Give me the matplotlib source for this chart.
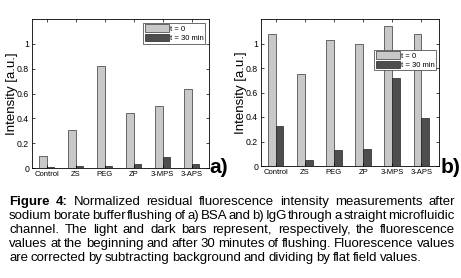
import numpy as np
import matplotlib
matplotlib.use("Agg")
import matplotlib.pyplot as plt

plt.rcParams['font.family'] = ['Liberation Sans', 'DejaVu Sans']

categories = ["Control", "ZS", "PEG", "ZP", "3-MPS", "3-APS"]
bsa_t0 = [0.10, 0.31, 0.82, 0.44, 0.50, 0.635]
bsa_t30 = [0.005, 0.02, 0.02, 0.03, 0.085, 0.035]
igg_t0 = [1.08, 0.75, 1.03, 1.00, 1.14, 1.08]
igg_t30 = [0.33, 0.05, 0.13, 0.135, 0.72, 0.395]
yticks = [0, 0.2, 0.4, 0.6, 0.8, 1]
ytick_labels = ["0", "0.2", "0.4", "0.6", "0.8", "1"]

caption_lines = [
    "Figure 4: Normalized residual fluorescence intensity measurements after",
    "sodium borate buffer flushing of a) BSA and b) IgG through a straight microfluidic",
    "channel. The light and dark bars represent, respectively, the fluorescence",
    "values at the beginning and after 30 minutes of flushing. Fluorescence values",
    "are corrected by subtracting background and dividing by flat field values.",
]

W, H = 461, 278
fig = plt.figure(figsize=(W / 100, H / 100), dpi=100)

light = "#c8c8c8"
dark = "#4e4e4e"


def panel(rect, t0, t30, legend_loc):
    ax = fig.add_axes(rect)
    x = np.arange(len(categories))
    w = 0.27
    ax.bar(x - w / 2, t0, w, color=light, edgecolor="#333333", linewidth=0.5, label="t = 0")
    ax.bar(x + w / 2, t30, w, color=dark, edgecolor="#222222", linewidth=0.5, label="t = 30 min")
    ax.set_xlim(-0.5, 5.6)
    ax.set_ylim(0, 1.2)
    ax.set_xticks(x)
    ax.set_xticklabels(categories, fontsize=5.5)
    ax.set_yticks(yticks)
    ax.set_yticklabels(ytick_labels, fontsize=6.3)
    ax.tick_params(direction="in", length=2, width=0.5, top=True, right=True, pad=2)
    for s in ax.spines.values():
        s.set_linewidth(0.6)
    ax.set_ylabel("Intensity [a.u.]", fontsize=9.5)
    ax.yaxis.set_label_coords(-0.08, 0.5)
    leg = ax.legend(fontsize=5.5, loc=legend_loc, handlelength=3.2, handleheight=1.1,
                    handletextpad=0.1, borderpad=0.2, labelspacing=0.15,
                    fancybox=False, edgecolor="#333333", framealpha=1)
    leg.get_frame().set_linewidth(0.5)
    return ax


ax_a = panel([32 / W, 1 - 168 / H, 177 / W, 149 / H], bsa_t0, bsa_t30, "upper right")
ax_b = panel([261 / W, 1 - 166 / H, 178 / W, 147 / H], igg_t0, igg_t30, (0.635, 0.65))

fig.text(209 / W, 1 - 173 / H, "a)", fontsize=15, fontweight="bold", va="baseline")
fig.text(441 / W, 1 - 173 / H, "b)", fontsize=15, fontweight="bold", va="baseline")

# justified caption
renderer = fig.canvas.get_renderer()
left, right = 9, 455
baselines = [205, 219, 233, 247, 261]
fs = 9.5
space_w = 2.6
for i, line in enumerate(caption_lines):
    words = line.split(" ")
    texts = []
    for j, wd in enumerate(words):
        bold = i == 0 and j < 2
        t = fig.text(0, 1 - baselines[i] / H, wd, fontsize=fs,
                     fontweight="bold" if bold else "normal", va="baseline")
        texts.append(t)
    widths = [t.get_window_extent(renderer).width for t in texts]
    if i < len(caption_lines) - 1:
        gap = (right - left - sum(widths)) / (len(words) - 1)
        scale = 1.0
        if gap < 1.5:
            # squeeze the line a little so it fits
            scale = (right - left - 1.5 * (len(words) - 1)) / sum(widths)
            gap = 1.5
    else:
        gap = space_w
        scale = 1.0
    xpos = left
    for t, wdt in zip(texts, widths):
        t.set_x(xpos / W)
        xpos += wdt * scale + gap

fig.savefig("out.png", dpi=100)
